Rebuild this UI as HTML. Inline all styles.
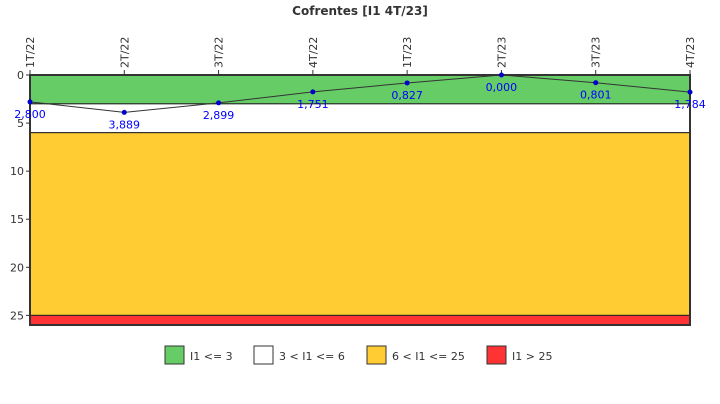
<!DOCTYPE html>
<html><head><meta charset="utf-8"><style>
body{margin:0;background:#fff;width:720px;height:400px;overflow:hidden;font-family:"DejaVu Sans","Liberation Sans",sans-serif}
</style></head><body>
<svg width="720" height="400">
<text x="360" y="15" text-anchor="middle" font-size="12" font-weight="bold" fill="#333">Cofrentes [I1 4T/23]</text>
<g id="bands"></g>
<g id="axes"></g>
<g id="series"></g>
<g id="legend"></g>
</svg>
<script>
const categories=["1T/22","2T/22","3T/22","4T/22","1T/23","2T/23","3T/23","4T/23"];
const values=[2.800,3.889,2.899,1.751,0.827,0.000,0.801,1.784];
const valueLabels=["2,800","3,889","2,899","1,751","0,827","0,000","0,801","1,784"];
const yTicks=[0,5,10,15,20,25];
const bandFrom=[0,3,6,25];
const bandTo=[3,6,25,26];
const bandColors=["#66cc66","#ffffff","#ffcc33","#ff3333"];
const legendLabels=["I1 <= 3","3 < I1 <= 6","6 < I1 <= 25","I1 > 25"];
const X0=30,X1=690,Y0=75,Y1=325,YMAX=26;
const x=i=>X0+i*(X1-X0)/(categories.length-1);
const y=v=>Y0+v*(Y1-Y0)/YMAX;
const NS="http://www.w3.org/2000/svg";
function mk(parent,tag,attrs,text){const e=document.createElementNS(NS,tag);for(const k in attrs)e.setAttribute(k,attrs[k]);if(text!==undefined)e.textContent=text;document.getElementById(parent).appendChild(e);return e;}
bandFrom.forEach((f,i)=>{
 const r=mk("bands","rect",{x:X0,y:y(f),width:X1-X0,height:y(bandTo[i])-y(f),fill:bandColors[i],stroke:"#222","stroke-width":1});
 
 
});
const fr=mk("axes","rect",{x:X0,y:Y0,width:X1-X0,height:Y1-Y0,fill:"none",stroke:"#333","stroke-width":2});


yTicks.forEach(t=>{
 mk("axes","line",{x1:X0-4,x2:X0,y1:y(t),y2:y(t),stroke:"#333"});
 const tx=mk("axes","text",{x:X0-6,y:y(t)+4,"text-anchor":"end","font-size":11,fill:"#333"},String(t));
 
 
});
categories.forEach((c,i)=>{
 mk("axes","line",{x1:x(i),x2:x(i),y1:Y0-5,y2:Y0,stroke:"#333"});
 const tx=mk("axes","text",{x:0,y:0,"font-size":11,fill:"#333",transform:`translate(${x(i)+4},${Y0-7}) rotate(-90)`},c);
 
 
});
const pl=mk("series","polyline",{points:values.map((v,i)=>x(i)+","+y(v)).join(" "),fill:"none",stroke:"#333","stroke-width":1});


values.forEach((v,i)=>{
 const c=mk("series","circle",{cx:x(i),cy:y(v),r:2.5,fill:"#0000cc"});
 
 
 const t=mk("series","text",{x:x(i),y:y(v)+16,"text-anchor":"middle","font-size":11,fill:"#0000ff"},valueLabels[i]);
 
 
});
const lx=[165,254,367,487];
legendLabels.forEach((l,i)=>{
 const r=mk("legend","rect",{x:lx[i],y:346,width:19,height:18,fill:bandColors[i],stroke:"#333"});
 
 
 const t=mk("legend","text",{x:lx[i]+25,y:360,"font-size":11,fill:"#333"},l);
 
 
});
</script>
</body></html>
